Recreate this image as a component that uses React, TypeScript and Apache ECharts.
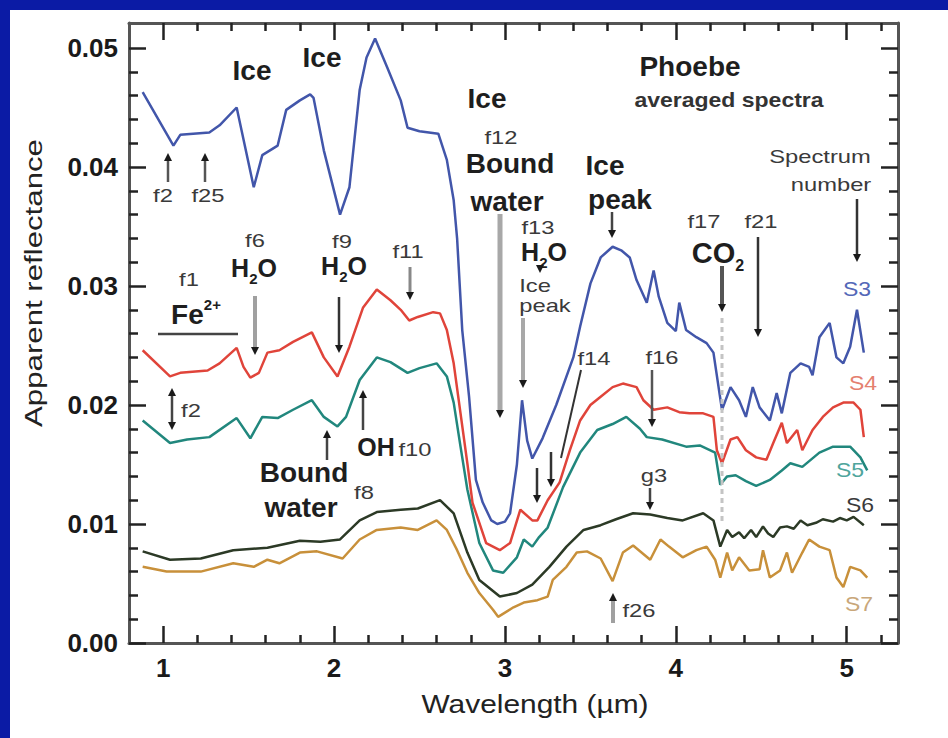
import React, { useEffect, useRef } from "react";
import * as echarts from "echarts";

const FONT = '"Liberation Sans", Arial, Helvetica, sans-serif';

// Axis ranges and tick positions
const X_MIN = 0.8;
const X_MAX = 5.3;
const Y_MIN = 0;
const Y_MAX = 0.0521;
const X_MAJOR = [1, 2, 3, 4, 5];
const X_MINOR = [1.2, 1.4, 1.6, 1.8, 2.2, 2.4, 2.6, 2.8, 3.2, 3.4, 3.6, 3.8, 4.2, 4.4, 4.6, 4.8, 5.2];
const Y_MAJOR = [0, 0.01, 0.02, 0.03, 0.04, 0.05];
const Y_MINOR = [
  0.002, 0.004, 0.006, 0.008, 0.012, 0.014, 0.016, 0.018, 0.022, 0.024, 0.026, 0.028,
  0.032, 0.034, 0.036, 0.038, 0.042, 0.044, 0.046, 0.048,
];

// Averaged spectra: [wavelength (µm), apparent reflectance]
const S3: [number, number][] = [
  [0.88, 0.0463], [1.06, 0.0418], [1.1, 0.0427], [1.27, 0.0429], [1.33, 0.0435], [1.43, 0.045],
  [1.53, 0.0383], [1.58, 0.041], [1.67, 0.0418], [1.72, 0.0448], [1.8, 0.0456], [1.86, 0.0461],
  [1.88, 0.0458], [1.94, 0.0414], [2.035, 0.036], [2.09, 0.0383], [2.15, 0.0465], [2.19, 0.0492],
  [2.24, 0.0508], [2.31, 0.0484], [2.39, 0.0456], [2.43, 0.0433], [2.5, 0.043], [2.61, 0.0428],
  [2.66, 0.0406], [2.7, 0.0372], [2.72, 0.034], [2.75, 0.0263], [2.79, 0.0207], [2.83, 0.0137],
  [2.87, 0.0118], [2.92, 0.0103], [2.955, 0.01], [3.0, 0.0102], [3.03, 0.0109], [3.07, 0.015],
  [3.1, 0.0204], [3.13, 0.017], [3.16, 0.0155], [3.22, 0.0172], [3.3, 0.02], [3.4, 0.024],
  [3.44, 0.0266], [3.5, 0.0302], [3.56, 0.0324], [3.63, 0.0333], [3.68, 0.033], [3.73, 0.0324],
  [3.77, 0.0305], [3.83, 0.0286], [3.87, 0.0313], [3.9, 0.0291], [3.95, 0.0269], [4.0, 0.0262],
  [4.02, 0.0286], [4.06, 0.0263], [4.12, 0.0257], [4.18, 0.0252], [4.22, 0.0244], [4.25, 0.0215],
  [4.27, 0.0196], [4.32, 0.0215], [4.37, 0.0204], [4.41, 0.019], [4.45, 0.0215], [4.49, 0.0198],
  [4.55, 0.0187], [4.59, 0.021], [4.62, 0.0193], [4.67, 0.0227], [4.73, 0.0235], [4.78, 0.0232],
  [4.8, 0.0225], [4.84, 0.0257], [4.9, 0.0269], [4.94, 0.024], [4.98, 0.0235], [5.02, 0.0249],
  [5.06, 0.028], [5.1, 0.0244],
];
const S4: [number, number][] = [
  [0.88, 0.0246], [1.04, 0.0224], [1.1, 0.0227], [1.26, 0.0229], [1.33, 0.0235], [1.43, 0.0248],
  [1.47, 0.0232], [1.51, 0.0223], [1.56, 0.0227], [1.61, 0.0244], [1.68, 0.0246], [1.76, 0.0253],
  [1.87, 0.0261], [1.94, 0.024], [2.02, 0.0224], [2.09, 0.0249], [2.17, 0.0282], [2.25, 0.0297],
  [2.33, 0.0288], [2.39, 0.028], [2.44, 0.0271], [2.49, 0.0274], [2.58, 0.0278], [2.62, 0.0277],
  [2.66, 0.0263], [2.7, 0.0235], [2.74, 0.0193], [2.78, 0.0151], [2.81, 0.0118], [2.89, 0.0084],
  [2.97, 0.0078], [3.03, 0.0084], [3.09, 0.0112], [3.16, 0.0103], [3.19, 0.0103], [3.25, 0.012],
  [3.32, 0.0135], [3.38, 0.0162], [3.44, 0.0187], [3.5, 0.02], [3.56, 0.0207], [3.63, 0.0215],
  [3.69, 0.0218], [3.77, 0.0215], [3.81, 0.0204], [3.87, 0.0196], [3.95, 0.0198], [4.02, 0.0194],
  [4.08, 0.0193], [4.16, 0.0193], [4.22, 0.019], [4.24, 0.0162], [4.27, 0.0151], [4.32, 0.0171],
  [4.36, 0.0173], [4.41, 0.0162], [4.47, 0.0156], [4.53, 0.0154], [4.57, 0.0168], [4.62, 0.0185],
  [4.65, 0.0168], [4.71, 0.0179], [4.74, 0.0162], [4.8, 0.0179], [4.86, 0.019], [4.92, 0.0198],
  [4.98, 0.0202], [5.04, 0.0202], [5.08, 0.0196], [5.1, 0.0173],
];
const S5: [number, number][] = [
  [0.88, 0.0187], [1.04, 0.0168], [1.14, 0.0171], [1.27, 0.0173], [1.43, 0.0189], [1.51, 0.0172],
  [1.58, 0.019], [1.67, 0.0189], [1.76, 0.0196], [1.87, 0.0204], [1.94, 0.019], [2.02, 0.0182],
  [2.07, 0.019], [2.15, 0.0221], [2.25, 0.024], [2.33, 0.0236], [2.43, 0.0227], [2.5, 0.0231],
  [2.6, 0.0235], [2.66, 0.0224], [2.7, 0.0202], [2.74, 0.0165], [2.78, 0.0129], [2.85, 0.0084],
  [2.93, 0.0061], [2.99, 0.0059], [3.07, 0.0072], [3.11, 0.0087], [3.16, 0.0081], [3.2, 0.0089],
  [3.25, 0.0097], [3.34, 0.0131], [3.44, 0.016], [3.54, 0.0179], [3.63, 0.0184], [3.71, 0.019],
  [3.79, 0.018], [3.83, 0.0173], [3.92, 0.0171], [4.06, 0.0165], [4.14, 0.0166], [4.23, 0.016],
  [4.26, 0.0133], [4.3, 0.014], [4.35, 0.0141], [4.41, 0.0136], [4.47, 0.0132], [4.55, 0.0137],
  [4.62, 0.0145], [4.67, 0.0151], [4.74, 0.0148], [4.84, 0.016], [4.92, 0.0165], [5.02, 0.0165],
  [5.08, 0.0156], [5.12, 0.0145],
];
const S6: [number, number][] = [
  [0.88, 0.0077], [1.04, 0.007], [1.22, 0.0071], [1.41, 0.0078], [1.61, 0.008], [1.8, 0.0086],
  [1.92, 0.0085], [2.035, 0.0087], [2.15, 0.0103], [2.25, 0.011], [2.39, 0.0112], [2.49, 0.0113],
  [2.62, 0.012], [2.7, 0.0109], [2.78, 0.0076], [2.85, 0.0053], [2.97, 0.0039], [3.07, 0.0042],
  [3.16, 0.0049], [3.26, 0.0064], [3.36, 0.0081], [3.46, 0.0095], [3.56, 0.0099], [3.65, 0.0104],
  [3.75, 0.0109], [3.85, 0.0108], [3.95, 0.0105], [4.04, 0.0103], [4.16, 0.0109], [4.22, 0.0103],
  [4.26, 0.0081], [4.3, 0.0095], [4.33, 0.0089], [4.37, 0.0093], [4.4, 0.0088], [4.44, 0.0095],
  [4.47, 0.0089], [4.51, 0.0098], [4.54, 0.0092], [4.57, 0.0089], [4.61, 0.0097], [4.65, 0.0098],
  [4.69, 0.0096], [4.73, 0.0103], [4.77, 0.0099], [4.82, 0.0101], [4.86, 0.0104], [4.92, 0.0102],
  [4.96, 0.0105], [5.0, 0.0103], [5.04, 0.0106], [5.1, 0.0099],
];
const S7: [number, number][] = [
  [0.88, 0.0064], [1.02, 0.006], [1.22, 0.006], [1.41, 0.0067], [1.53, 0.0064], [1.61, 0.007],
  [1.68, 0.0067], [1.8, 0.0076], [1.9, 0.0077], [2.05, 0.0071], [2.15, 0.0087], [2.25, 0.0095],
  [2.39, 0.0097], [2.49, 0.0095], [2.6, 0.0103], [2.66, 0.0095], [2.72, 0.0078], [2.78, 0.0059],
  [2.85, 0.0042], [2.93, 0.0028], [2.96, 0.0022], [3.05, 0.003], [3.11, 0.0034], [3.19, 0.0036],
  [3.25, 0.0039], [3.28, 0.0053], [3.36, 0.0064], [3.42, 0.0076], [3.48, 0.0077], [3.56, 0.0071],
  [3.63, 0.0052], [3.69, 0.0076], [3.75, 0.0082], [3.85, 0.007], [3.91, 0.0087], [3.96, 0.0081],
  [4.04, 0.0072], [4.12, 0.0078], [4.18, 0.0081], [4.23, 0.007], [4.26, 0.0055], [4.3, 0.0076],
  [4.33, 0.0061], [4.37, 0.0072], [4.43, 0.0061], [4.49, 0.0062], [4.51, 0.0078], [4.55, 0.0055],
  [4.61, 0.0061], [4.65, 0.0076], [4.68, 0.0059], [4.74, 0.0076], [4.78, 0.0087], [4.84, 0.0081],
  [4.9, 0.0078], [4.94, 0.0055], [4.98, 0.0047], [5.02, 0.0064], [5.08, 0.0061], [5.12, 0.0055],
];

const SPECTRA = [
  { name: "S7", data: S7, color: "#c8903a" },
  { name: "S6", data: S6, color: "#2c3a26" },
  { name: "S5", data: S5, color: "#21877d" },
  { name: "S4", data: S4, color: "#e0443a" },
  { name: "S3", data: S3, color: "#4256aa" },
];

const measureCtx = document.createElement("canvas").getContext("2d") as CanvasRenderingContext2D;
function textWidth(t: string, size: number, weight: string) {
  measureCtx.font = `${weight} ${size}px ${FONT}`;
  return measureCtx.measureText(t).width;
}

type Opt = { size: number; weight?: string; color?: string; sx?: number; rot?: number };
function label(text: string, x: number, y: number, o: Opt): any {
  return {
    type: "text",
    x,
    y,
    rotation: o.rot || 0,
    scaleX: o.sx || 1,
    z: 100,
    silent: true,
    style: {
      text,
      fill: o.color || "#1e1e1e",
      fontSize: o.size,
      fontWeight: o.weight || "normal",
      fontFamily: FONT,
      align: "center",
      verticalAlign: "middle",
      textAlign: "center",
      textVerticalAlign: "middle",
    },
  };
}

// Chemical formula laid out piece by piece: [text, size, vertical shift]
function chem(cx: number, cy: number, parts: [string, number, number][], color = "#1e1e1e"): any[] {
  const widths = parts.map(([t, s]) => textWidth(t, s, "bold"));
  const total = widths.reduce((a, b) => a + b, 0);
  let x = cx - total / 2;
  return parts.map(([t, s, dy], i) => {
    const el = label(t, x + widths[i] / 2, cy + dy, { size: s, weight: "bold", color });
    x += widths[i];
    return el;
  });
}

function seg(x1: number, y1: number, x2: number, y2: number, color: string, width: number, dash?: number[]): any {
  return {
    type: "line",
    z: 99,
    silent: true,
    shape: { x1, y1, x2, y2 },
    style: { stroke: color, lineWidth: width, lineDash: dash || null },
  };
}

function head(x: number, tipY: number, dir: number, color = "#1a1a1a"): any {
  const hl = 8;
  const hw = 4;
  return {
    type: "polygon",
    z: 100,
    silent: true,
    shape: { points: [[x - hw, tipY - dir * hl], [x + hw, tipY - dir * hl], [x, tipY]] },
    style: { fill: color },
  };
}

// Vertical arrow from y1 to y2 (tip at y2)
function arrow(x: number, y1: number, y2: number, color = "#333", width = 2.5, both = false): any[] {
  const dir = Math.sign(y2 - y1);
  const els = [seg(x, both ? y1 + dir * 7 : y1, x, y2 - dir * 7, color, width), head(x, y2, dir)];
  if (both) els.push(head(x, y1, -dir));
  return els;
}

const SMALL: Opt = { size: 19, color: "#3a3a3a", sx: 1.25 };
const BIG: Opt = { size: 28, weight: "bold", color: "#1e1e1e" };

function annotations(): any[] {
  const g: any[] = [];
  // page frame
  g.push({ type: "rect", z: 0, silent: true, shape: { x: 0, y: 0, width: 948, height: 10 }, style: { fill: "#0b1ba5" } });
  g.push({ type: "rect", z: 0, silent: true, shape: { x: 0, y: 0, width: 10, height: 738 }, style: { fill: "#0b1ba5" } });

  // axis titles
  g.push(label("Wavelength (µm)", 535, 704, { size: 26, color: "#222", sx: 1.15 }));
  g.push(label("Apparent reflectance", 34, 283, { size: 24, color: "#222", sx: 1.3, rot: Math.PI / 2 }));

  // title block
  g.push(label("Phoebe", 690, 66, BIG));
  g.push(label("averaged spectra", 729, 100, { size: 20, weight: "bold", color: "#333", sx: 1.15 }));
  g.push(label("Spectrum", 820, 157, SMALL));
  g.push(label("number", 831, 185, SMALL));
  g.push(...arrow(857, 199, 262, "#333", 2.5));

  // ice bands
  g.push(label("Ice", 252, 70, BIG));
  g.push(label("Ice", 322, 57, BIG));
  g.push(label("Ice", 487, 98, BIG));
  g.push(label("f2", 163, 196, SMALL));
  g.push(label("f25", 208, 196, SMALL));
  g.push(...arrow(168, 182, 153, "#555", 2.5));
  g.push(...arrow(205, 182, 153, "#555", 2.5));

  // 3 µm bound water
  g.push(label("f12", 501, 138, SMALL));
  g.push(label("Bound", 510, 163, BIG));
  g.push(label("water", 507, 201, BIG));
  g.push(...arrow(500, 214, 418, "#a8a8a8", 5));

  // 3.1 µm ice peak
  g.push(label("f13", 538, 228, SMALL));
  g.push(...chem(544, 252, [["H", 25, 0], ["2", 15, 10], ["O", 25, 0]]));
  g.push(head(540, 273, 1));
  g.push(label("Ice", 535, 286, SMALL));
  g.push(label("peak", 545, 306, SMALL));
  g.push(...arrow(523, 318, 388, "#a8a8a8", 4));

  // 3.6 µm ice peak
  g.push(label("Ice", 605, 165, BIG));
  g.push(label("peak", 620, 199, BIG));
  g.push(...arrow(612, 212, 238, "#444", 2.5));

  // CO2
  g.push(label("f17", 704, 222, SMALL));
  g.push(...chem(718, 253, [["CO", 29, 0], ["2", 16, 12]]));
  g.push(...arrow(722, 266, 312, "#555", 4));
  g.push(seg(722, 318, 722, 522, "#c4c4c4", 3, [5, 4]));
  g.push(label("f21", 761, 222, SMALL));
  g.push(...arrow(758, 237, 337, "#333", 2.5));

  // spectrum numbers
  g.push(label("S3", 857, 289, { size: 20, color: "#5468b8", sx: 1.15 }));
  g.push(label("S4", 863, 383, { size: 20, color: "#e4806f", sx: 1.15 }));
  g.push(label("S5", 850, 470, { size: 20, color: "#4fa59c", sx: 1.15 }));
  g.push(label("S6", 860, 505, { size: 20, color: "#3a3a3a", sx: 1.15 }));
  g.push(label("S7", 859, 604, { size: 20, color: "#c9a77a", sx: 1.15 }));

  // Fe2+ band
  g.push(label("f1", 189, 280, SMALL));
  g.push(...chem(196, 314, [["Fe", 28, 0], ["2+", 15, -10]]));
  g.push(seg(158, 334, 238, 334, "#444", 2.5));

  // 1.5 and 2.0 µm water
  g.push(label("f6", 255, 241, SMALL));
  g.push(...chem(254, 268, [["H", 25, 0], ["2", 15, 10], ["O", 25, 0]]));
  g.push(...arrow(255, 296, 355, "#a0a0a0", 4));
  g.push(label("f9", 342, 242, SMALL));
  g.push(...chem(344, 266, [["H", 25, 0], ["2", 15, 10], ["O", 25, 0]]));
  g.push(...arrow(339, 297, 353, "#333", 2.5));
  g.push(label("f11", 408, 252, SMALL));
  g.push(...arrow(410, 267, 300, "#888", 3));

  // lower-left features
  g.push(...arrow(172, 388, 430, "#444", 2.5, true));
  g.push(label("f2", 191, 411, SMALL));
  g.push(label("Bound", 304, 472, BIG));
  g.push(label("water", 301, 507, BIG));
  g.push(label("f8", 364, 493, SMALL));
  g.push(...arrow(327, 460, 430, "#444", 2.5));
  g.push(...chem(376, 447, [["OH", 25, 0]]));
  g.push(label("f10", 415, 450, SMALL));
  g.push(...arrow(363, 430, 390, "#444", 2.5));

  // 3.2-3.9 µm features
  g.push(label("f14", 594, 359, SMALL));
  g.push(seg(581, 370, 561, 458, "#333", 2));
  g.push(...arrow(551, 452, 487, "#333", 2.5));
  g.push(...arrow(537, 468, 503, "#333", 2.5));
  g.push(label("f16", 662, 358, SMALL));
  g.push(...arrow(652, 370, 427, "#555", 2.5));
  g.push(label("g3", 654, 476, SMALL));
  g.push(...arrow(650, 488, 510, "#444", 2.5));
  g.push(label("f26", 639, 611, SMALL));
  g.push(...arrow(613, 623, 593, "#a0a0a0", 4));
  return g;
}

function valueAxis(extra: any): any {
  return {
    type: "value",
    splitLine: { show: false },
    axisLine: { show: false, onZero: false },
    axisLabel: { show: false },
    ...extra,
  };
}

const AXIS_LINE = { show: true, onZero: false, lineStyle: { color: "#555", width: 3 } };
const TICK_STYLE = { color: "#222", width: 2.5 };
const TICK_LABEL = { fontSize: 26, fontWeight: "bold", color: "#1a1a1a", fontFamily: FONT };

export default function App() {
  const ref = useRef<HTMLDivElement>(null);
  useEffect(() => {
    if (!ref.current) return;
    const chart = echarts.init(ref.current, null, { renderer: "svg" });
    const xr = { min: X_MIN, max: X_MAX };
    const yr = { min: Y_MIN, max: Y_MAX };
    chart.setOption({
      animation: false,
      backgroundColor: "#ffffff",
      grid: { left: 129, right: 50, top: 23, bottom: 95, outerBoundsMode: "none" },
      xAxis: [
        valueAxis({
          ...xr,
          position: "bottom",
          axisLine: AXIS_LINE,
          axisTick: { show: true, inside: true, length: 17, customValues: X_MAJOR, lineStyle: TICK_STYLE },
          axisLabel: { show: true, customValues: X_MAJOR, margin: 12, ...TICK_LABEL },
        }),
        valueAxis({
          ...xr,
          position: "bottom",
          axisTick: { show: true, inside: true, length: 8, customValues: X_MINOR, lineStyle: TICK_STYLE },
        }),
        valueAxis({
          ...xr,
          position: "top",
          axisLine: AXIS_LINE,
          axisTick: { show: true, inside: true, length: 17, customValues: X_MAJOR, lineStyle: TICK_STYLE },
        }),
        valueAxis({
          ...xr,
          position: "top",
          axisTick: { show: true, inside: true, length: 8, customValues: X_MINOR, lineStyle: TICK_STYLE },
        }),
      ],
      yAxis: [
        valueAxis({
          ...yr,
          position: "left",
          axisLine: AXIS_LINE,
          axisTick: { show: true, inside: true, length: 17, customValues: Y_MAJOR, lineStyle: TICK_STYLE },
          axisLabel: {
            show: true,
            customValues: Y_MAJOR,
            margin: 11,
            formatter: (v: number) => v.toFixed(2),
            ...TICK_LABEL,
          },
        }),
        valueAxis({
          ...yr,
          position: "left",
          axisTick: { show: true, inside: true, length: 9, customValues: Y_MINOR, lineStyle: TICK_STYLE },
        }),
        valueAxis({
          ...yr,
          position: "right",
          axisLine: AXIS_LINE,
          axisTick: { show: true, inside: true, length: 17, customValues: Y_MAJOR, lineStyle: TICK_STYLE },
        }),
        valueAxis({
          ...yr,
          position: "right",
          axisTick: { show: true, inside: true, length: 9, customValues: Y_MINOR, lineStyle: TICK_STYLE },
        }),
      ],
      series: SPECTRA.map((s) => ({
        name: s.name,
        type: "line",
        xAxisIndex: 0,
        yAxisIndex: 0,
        data: s.data,
        showSymbol: false,
        symbol: "none",
        silent: true,
        z: 3,
        lineStyle: { color: s.color, width: 2.5 },
      })),
      graphic: { elements: annotations() },
    });
    return () => chart.dispose();
  }, []);
  return (
    <div
      ref={ref}
      style={{ position: "absolute", left: 0, top: 0, width: 948, height: 738, background: "#fff" }}
    />
  );
}
